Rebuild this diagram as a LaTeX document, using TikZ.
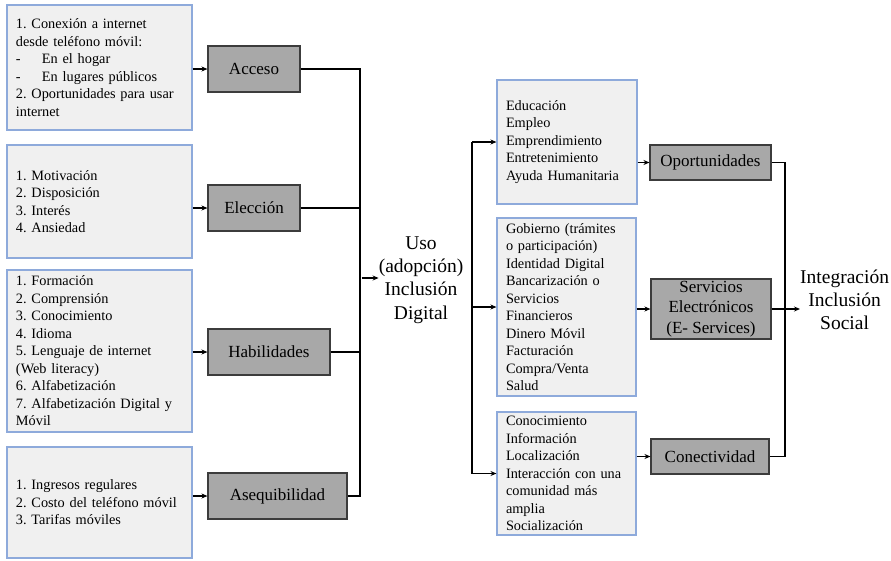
\documentclass[tikz,border=0pt]{standalone}
\usepackage{fontspec}
\setmainfont{Liberation Serif}
\usetikzlibrary{arrows.meta}
\frenchspacing

\definecolor{boxblue}{HTML}{8EAADB}
\definecolor{boxlight}{HTML}{F0F0F0}
\definecolor{boxgray}{HTML}{A8A8A8}
\definecolor{boxedge}{HTML}{3C3C3C}

\tikzset{
  itembox/.style={draw=boxblue, fill=boxlight, line width=1.1pt, inner xsep=9pt, inner ysep=0pt,
    align=left, font=\fontsize{14.3}{17.5}\selectfont},
  factor/.style={draw=boxedge, fill=boxgray, line width=1.1pt, inner sep=0pt, align=center,
    font=\fontsize{17}{20.5}\selectfont},
  result/.style={align=center, inner sep=0pt, font=\fontsize{19.5}{23.3}\selectfont},
  link/.style={line width=1.4pt},
  arr/.style={line width=1.4pt, -{Stealth[length=6pt,width=5pt]}}
}

\begin{document}
\begin{tikzpicture}[x=1pt,y=-1pt]
	\useasboundingbox (0,0) rectangle (891,560);
	%x positions of the three collecting lines
	\pgfmathsetmacro{\busl}{360}
	\pgfmathsetmacro{\busm}{472}
	\pgfmathsetmacro{\busr}{785}

	%Left column: lists of factors
	\node[itembox, minimum width=185pt, minimum height=125pt, text width=167pt] (acclist) at (99.5,67.5)
		{1. Conexión a internet\\ desde teléfono móvil:\\
		 \makebox[26pt][l]{-}En el hogar\\ \makebox[26pt][l]{-}En lugares públicos\\
		 2. Oportunidades para usar\\ internet};
	\node[itembox, minimum width=185pt, minimum height=113pt, text width=167pt] (elelist) at (99.5,201.5)
		{1. Motivación\\ 2. Disposición\\ 3. Interés\\ 4. Ansiedad};
	\node[itembox, minimum width=185pt, minimum height=162pt, text width=167pt] (hablist) at (99.5,351)
		{1. Formación\\ 2. Comprensión\\ 3. Conocimiento\\ 4. Idioma\\ 5. Lenguaje de internet\\
		 (Web literacy)\\ 6. Alfabetización\\ 7. Alfabetización Digital y\\ Móvil};
	\node[itembox, minimum width=185pt, minimum height=111pt, text width=167pt] (aselist) at (99.5,502.5)
		{1. Ingresos regulares\\ 2. Costo del teléfono móvil\\ 3. Tarifas móviles};

	%Gray factor boxes
	\node[factor, minimum width=92pt, minimum height=46pt] (acceso) at (254,69) {Acceso};
	\node[factor, minimum width=92pt, minimum height=46pt] (eleccion) at (254,208) {Elección};
	\node[factor, minimum width=122pt, minimum height=46pt] (habil) at (269,352) {Habilidades};
	\node[factor, minimum width=139pt, minimum height=46pt] (asequ) at (277.5,496) {Asequibilidad};

	\node[result] (uso) at (421,280) {Uso\\ (adopción)\\ Inclusión\\ Digital};

	%Right column: uses
	\node[itembox, minimum width=140pt, minimum height=124pt, text width=122pt] (oplist) at (567,142)
		{Educación\\ Empleo\\ Emprendimiento\\ Entretenimiento\\ Ayuda Humanitaria};
	\node[itembox, minimum width=139pt, minimum height=178pt, text width=121pt] (serlist) at (566.5,307)
		{Gobierno (trámites\\ o participación)\\ Identidad Digital\\ Bancarización o\\ Servicios\\
		 Financieros\\ Dinero Móvil\\ Facturación\\ Compra/Venta\\ Salud};
	\node[itembox, minimum width=139pt, minimum height=123pt, text width=121pt] (conlist) at (566.5,473.5)
		{Conocimiento\\ Información\\ Localización\\ Interacción con una\\ comunidad más\\ amplia\\ Socialización};

	\node[factor, minimum width=121pt, minimum height=35pt] (oport) at (710.5,162.5) {Oportunidades};
	\node[factor, minimum width=120pt, minimum height=60pt] (eserv) at (711,309) {Servicios\\ Electrónicos\\ (E- Services)};
	\node[factor, minimum width=118pt, minimum height=35pt] (conect) at (710,456.5) {Conectividad};

	\node[result, anchor=west] (integ) at (800,300) {Integración\\ Inclusión\\ Social};

	%Lists to factors
	\foreach \a/\b in {acclist/acceso, elelist/eleccion, hablist/habil, aselist/asequ,
		oplist/oport, serlist/eserv, conlist/conect}
		\draw[arr] (\b.west -| \a.east) -- (\b.west);

	%Factors to Uso
	\draw[link] (acceso.east) -- (acceso.east -| {\busl,0}) -- (asequ.east -| {\busl,0}) -- (asequ.east);
	\draw[link] (eleccion.east) -- (eleccion.east -| {\busl,0});
	\draw[link] (habil.east) -- (habil.east -| {\busl,0});
	\draw[arr] (uso.west |- {0,278}) ++(-17,0) -- (uso.west |- {0,278});

	%Uso to the three lists
	\draw[link] (oplist.west -| {\busm,0}) -- (conlist.west -| {\busm,0});
	\foreach \n in {oplist, serlist, conlist}
		\draw[arr] (\n.west -| {\busm,0}) -- (\n.west);

	%Services to Integracion
	\draw[link] (oport.east) -- (oport.east -| {\busr,0}) -- (conect.east -| {\busr,0}) -- (conect.east);
	\draw[arr] (eserv.east) -- (integ.west |- eserv.east);

\end{tikzpicture}
\end{document}
